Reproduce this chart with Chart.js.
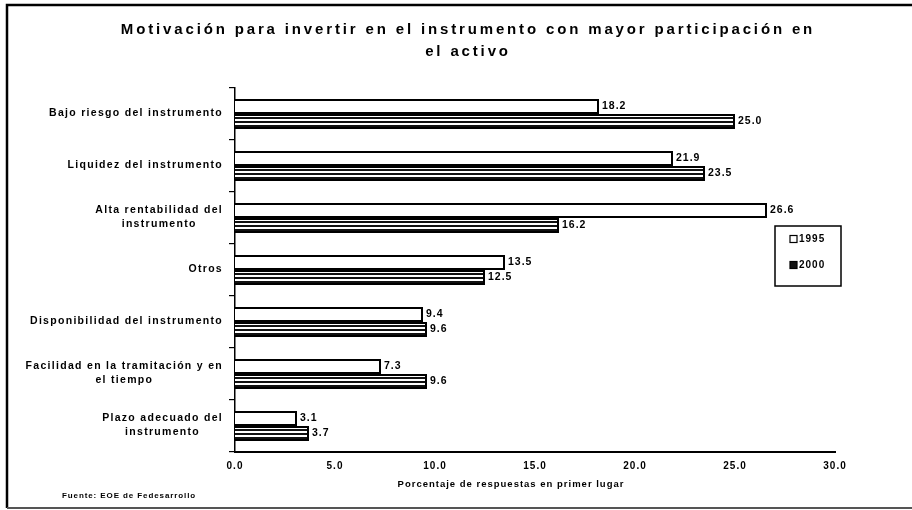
<!DOCTYPE html>
<html>
<head>
<meta charset="utf-8">
<script src="https://cdn.jsdelivr.net/npm/chart.js@4/dist/chart.umd.min.js"></script>
<style>
  html, body { margin: 0; padding: 0; background: #fff; }
  #wrap { width: 912px; height: 510px; position: relative; }
</style>
</head>
<body>
<div id="wrap"><canvas id="c" width="912" height="510"></canvas></div>
<script>
// Survey answers: reasons to invest in the instrument with the largest share of assets
const categories = [
  'Bajo riesgo del instrumento',
  'Liquidez del instrumento',
  ['Alta rentabilidad del', 'instrumento'],
  'Otros',
  'Disponibilidad del instrumento',
  ['Facilidad en la tramitación y en', 'el tiempo'],
  ['Plazo adecuado del', 'instrumento']
];
const values1995 = [18.2, 21.9, 26.6, 13.5, 9.4, 7.3, 3.1];
const values2000 = [25.0, 23.5, 16.2, 12.5, 9.6, 9.6, 3.7];
const seriesNames = ['1995', '2000'];
const titleLines = ['Motivación para invertir en el instrumento con mayor participación en', 'el activo'];
const axisTitle = 'Porcentaje de respuestas en primer lugar';
const sourceNote = 'Fuente: EOE de Fedesarrollo';

const FONT = '"Liberation Sans", Arial, sans-serif';

// striped fill for the second series
function stripes() {
  const p = document.createElement('canvas');
  p.width = 8; p.height = 4;
  const g = p.getContext('2d');
  g.fillStyle = '#fff'; g.fillRect(0, 0, 8, 4);
  g.fillStyle = '#111'; g.fillRect(0, 1, 8, 2);
  return g.createPattern(p, 'repeat');
}

function spacedText(ctx, text, x, y, font, spacing, align, baseline) {
  ctx.save();
  ctx.font = font;
  if ('letterSpacing' in ctx) ctx.letterSpacing = spacing + 'px';
  ctx.textAlign = align || 'left';
  ctx.textBaseline = baseline || 'middle';
  ctx.fillStyle = '#000';
  ctx.fillText(text, x, y);
  ctx.restore();
}
function textWidth(ctx, text, font, spacing) {
  ctx.save();
  ctx.font = font;
  if ('letterSpacing' in ctx) ctx.letterSpacing = spacing + 'px';
  const w = ctx.measureText(text).width;
  ctx.restore();
  return w;
}

const decor = {
  id: 'decor',
  beforeDraw(chart) {
    const ctx = chart.ctx;
    ctx.save();
    ctx.fillStyle = '#fff';
    ctx.fillRect(0, 0, chart.width, chart.height);
    ctx.strokeStyle = '#000';
    ctx.lineWidth = 2.5;
    ctx.beginPath();
    ctx.moveTo(7, 508); ctx.lineTo(7, 5); ctx.lineTo(912, 5);
    ctx.stroke();
    ctx.strokeStyle = '#555';
    ctx.lineWidth = 2;
    ctx.beginPath();
    ctx.moveTo(7, 508); ctx.lineTo(912, 508);
    ctx.stroke();
    ctx.restore();
    if ('letterSpacing' in ctx) ctx.letterSpacing = '1px';
  },
  afterDraw(chart) {
    const ctx = chart.ctx;
    const yScale = chart.scales.y;
    const area = chart.chartArea;

    // title
    const tFont = 'bold 15px ' + FONT;
    spacedText(ctx, titleLines[0], 468, 30, tFont, 2.85, 'center');
    spacedText(ctx, titleLines[1], 468, 52, tFont, 2.85, 'center');

    // category labels: block right-aligned at the axis, lines centred within the block
    const cFont = 'bold 10.5px ' + FONT;
    const right = area.left - 12;
    categories.forEach((cat, i) => {
      const lines = Array.isArray(cat) ? cat : [cat];
      const widths = lines.map(l => textWidth(ctx, l, cFont, 1.3));
      const w = Math.max(...widths);
      const cy = yScale.getPixelForValue(i);
      const lh = 14.5;
      lines.forEach((l, k) => {
        const y = cy - 1 + (k - (lines.length - 1) / 2) * lh;
        spacedText(ctx, l, right - w / 2, y, cFont, 1.3, 'center');
      });
    });

    // value labels
    const vFont = 'bold 10.5px ' + FONT;
    chart.data.datasets.forEach((ds, di) => {
      chart.getDatasetMeta(di).data.forEach((bar, i) => {
        spacedText(ctx, ds.data[i].toFixed(1), bar.x + 3, bar.y, vFont, 1, 'left');
      });
    });

    // axis title
    spacedText(ctx, axisTitle, 511, 484, 'bold 9.5px ' + FONT, 1, 'center');

    // legend
    ctx.save();
    ctx.strokeStyle = '#000';
    ctx.lineWidth = 1.5;
    ctx.strokeRect(775, 226, 66, 60);
    ctx.restore();
    const lFont = 'bold 10px ' + FONT;
    const legendFill = ['#fff', '#111'];
    chart.data.datasets.forEach((ds, di) => {
      const y = 239 + di * 26;
      ctx.save();
      ctx.fillStyle = legendFill[di];
      ctx.strokeStyle = '#000';
      ctx.lineWidth = 1.2;
      ctx.fillRect(790, y - 3.5, 7, 7);
      ctx.strokeRect(790, y - 3.5, 7, 7);
      ctx.restore();
      spacedText(ctx, ds.label, 799, y, lFont, 1, 'left');
    });

    // source
    spacedText(ctx, sourceNote, 62, 496, 'bold 8px ' + FONT, 0.9, 'left');
  }
};

new Chart(document.getElementById('c'), {
  type: 'bar',
  data: {
    labels: categories,
    datasets: [
      { label: seriesNames[0], data: values1995, backgroundColor: '#fff', borderColor: '#000', borderWidth: 2,
        categoryPercentage: 0.58, barPercentage: 1.0 },
      { label: seriesNames[1], data: values2000, backgroundColor: stripes(), borderColor: '#000', borderWidth: 2,
        categoryPercentage: 0.58, barPercentage: 1.0 }
    ]
  },
  options: {
    indexAxis: 'y',
    responsive: false,
    animation: false,
    devicePixelRatio: 1,
    layout: { padding: { top: 88, left: 0, right: 77, bottom: 18 } },
    plugins: {
      legend: { display: false },
      title: { display: false },
      tooltip: { enabled: false }
    },
    scales: {
      y: {
        ticks: { display: false },
        grid: { display: true, drawOnChartArea: false, drawTicks: true, tickLength: 6, color: '#000', lineWidth: 1.2 },
        border: { display: true, color: '#000', width: 1.5 },
        afterFit(scale) { scale.width = 235; }
      },
      x: {
        min: 0, max: 30,
        ticks: {
          stepSize: 5,
          padding: 8,
          color: '#000',
          font: { family: FONT, weight: 'bold', size: 10 },
          callback: v => Number(v).toFixed(1),
          maxRotation: 0
        },
        grid: { display: false, drawTicks: false },
        border: { display: true, color: '#000', width: 2 },
        title: { display: false },
        afterFit(scale) { scale.height = 40; }
      }
    }
  },
  plugins: [decor]
});
</script>
</body>
</html>
